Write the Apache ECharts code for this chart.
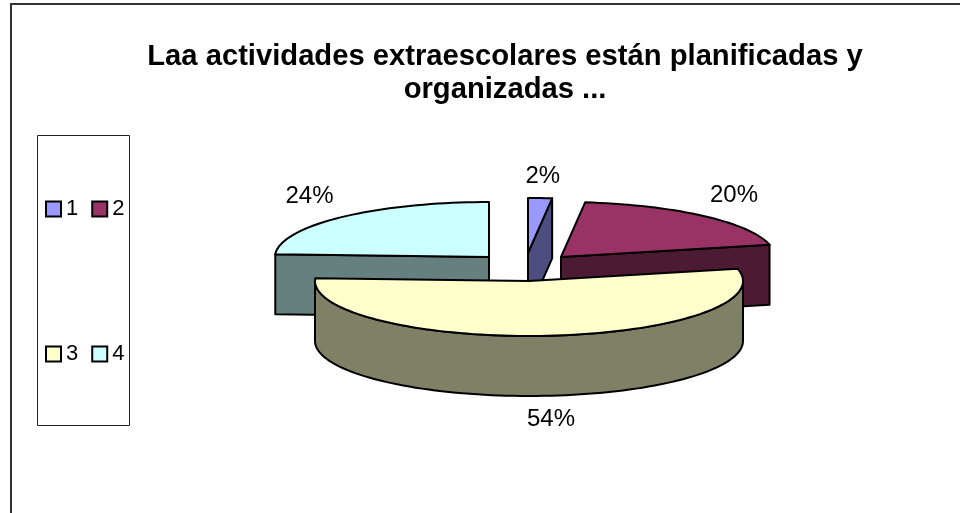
<!DOCTYPE html>
<html>
<head>
<meta charset="utf-8">
<title>Actividades extraescolares</title>
<script src="https://cdn.jsdelivr.net/npm/echarts@6/dist/echarts.min.js"></script>
<style>
  html, body { margin: 0; padding: 0; background: #fff; }
  #chart { width: 960px; height: 513px; }
</style>
</head>
<body>
<div id="chart"></div>
<script>
const categories = ["1", "2", "3", "4"];
const percents = [1.8, 19.6, 54.4, 24.2];
const chartTitle = "Laa actividades extraescolares están planificadas y\norganizadas ...";

const topColors = ["#9999FF", "#993366", "#FFFFCC", "#CCFFFF"];
const sideColors = ["#4D4D80", "#4D1A33", "#808066", "#668080"];

// 3d look: ellipse radii, wall height, where each exploded slice sits
const rx = 214;
const ry = 55;
const depth = 60;
const sliceCenters = [[528, 253], [561, 257], [529, 281], [489, 257]];
const sliceOrder = [3, 0, 1, 2]; // back to front
const labelNudge = [[0, 5], [-1.5, 0], [-1, -3], [1, -1]];
const font = "Liberation Sans, Arial, sans-serif";

const total = percents.reduce((a, b) => a + b, 0);

function sliceAngles(i) {
  let start = 0;
  for (let k = 0; k < i; k++) start += percents[k] / total * 360;
  return [start, start + percents[i] / total * 360];
}

function rim(c, deg, drop) {
  const r = deg * Math.PI / 180;
  return [c[0] + rx * Math.sin(r), c[1] - ry * Math.cos(r) + (drop || 0)];
}

function arc(c, from, to, drop) {
  const pts = [];
  const n = Math.max(2, Math.ceil((to - from) / 2));
  for (let k = 0; k <= n; k++) pts.push(rim(c, from + (to - from) * k / n, drop));
  return pts;
}

function poly(points, fill) {
  return {
    type: "polygon",
    shape: { points: points },
    style: { fill: fill, stroke: "#000", lineWidth: 2, lineJoin: "round" }
  };
}

function cutWall(c, deg, fill) {
  const p = rim(c, deg);
  return poly([c, p, [p[0], p[1] + depth], [c[0], c[1] + depth]], fill);
}

function renderSlice(i) {
  const c = sliceCenters[i];
  const [start, end] = sliceAngles(i);
  const mid = (start + end) / 2;
  const kids = [];

  if (start > 180 && start < 360) kids.push(cutWall(c, start, sideColors[i]));
  if (end > 0 && end < 180) kids.push(cutWall(c, end, sideColors[i]));

  const a = Math.max(start, 90);
  const b = Math.min(end, 270);
  if (a < b) {
    kids.push(poly(arc(c, a, b, 0).concat(arc(c, a, b, depth).reverse()), sideColors[i]));
  }

  kids.push(poly([c].concat(arc(c, start, end, 0)), topColors[i]));

  const rad = mid * Math.PI / 180;
  const lowerHalf = Math.cos(rad) < 0;
  kids.push({
    type: "text",
    style: {
      text: Math.round(percents[i]) + "%",
      x: c[0] + 262 * Math.sin(rad) + labelNudge[i][0],
      y: c[1] - 82 * Math.cos(rad) + (lowerHalf ? depth : 0) + labelNudge[i][1],
      font: "24px " + font,
      fill: "#000",
      align: "center",
      verticalAlign: "middle"
    }
  });
  return { type: "group", children: kids };
}

const series = categories.map((name, i) => ({
  type: "custom",
  name: name,
  coordinateSystem: "none",
  z: 2 + sliceOrder.indexOf(i),
  silent: true,
  itemStyle: { color: topColors[i] },
  data: [percents[i]],
  renderItem: () => renderSlice(i)
}));

function legendRow(names, top) {
  return {
    data: names,
    left: 45,
    top: top,
    orient: "horizontal",
    icon: "rect",
    itemWidth: 15,
    itemHeight: 15,
    itemGap: 13,
    itemStyle: { borderColor: "#000", borderWidth: 2 },
    padding: 0,
    selectedMode: false,
    textStyle: { fontFamily: font, fontSize: 22, color: "#000" }
  };
}

const chart = echarts.init(document.getElementById("chart"));
chart.setOption({
  backgroundColor: "#fff",
  animation: false,
  title: {
    text: chartTitle,
    left: 500,
    top: 35,
    textAlign: "center",
    textStyle: {
      fontFamily: font,
      fontSize: 29.2,
      fontWeight: "bold",
      color: "#000",
      lineHeight: 33
    }
  },
  legend: [legendRow(categories.slice(0, 2), 198), legendRow(categories.slice(2), 343)],
  graphic: [
    {
      type: "polyline",
      shape: { points: [[11, 513], [11, 4], [960, 4]] },
      style: { fill: "none", stroke: "#333", lineWidth: 2 },
      silent: true
    },
    {
      type: "rect",
      shape: { x: 37.5, y: 135.5, width: 92, height: 290 },
      style: { fill: "none", stroke: "#222", lineWidth: 1 },
      silent: true
    }
  ],
  series: series
});
</script>
</body>
</html>
